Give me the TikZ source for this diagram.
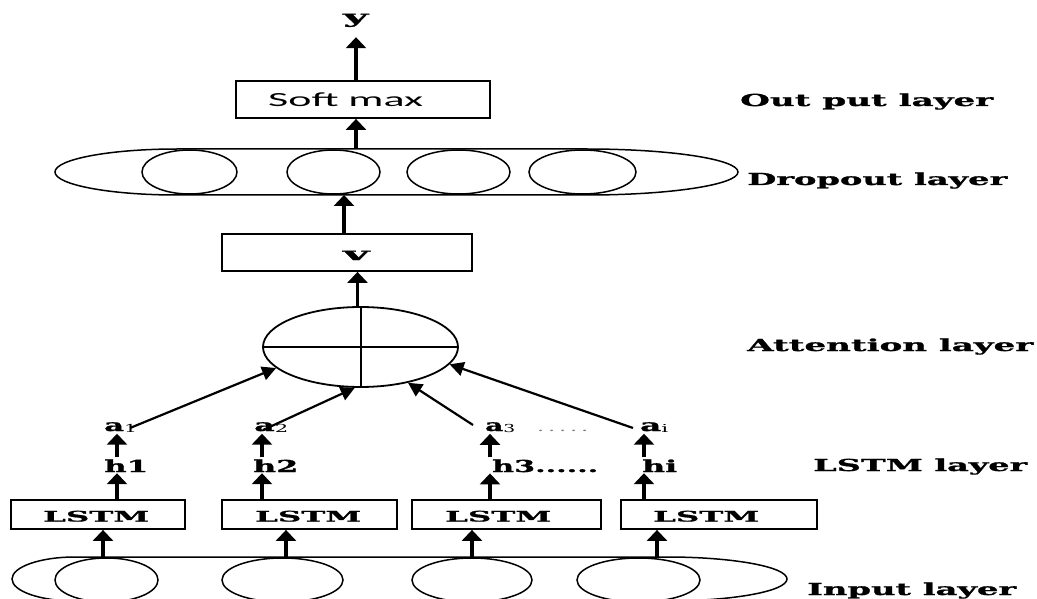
\documentclass[tikz,border=0pt]{standalone}
\usepackage{fontspec}
\usepackage{graphicx}
\setmainfont{DejaVu Serif}[BoldFeatures={FakeBold=1}]
\newfontfamily\boxsans{Carlito}
\usetikzlibrary{arrows.meta,shapes.geometric}
% stretch a piece of text to a given width, keeping its height
\newcommand{\fitto}[2]{\resizebox{#1pt}{\height}{#2}}

\begin{document}
\begin{tikzpicture}[x=1pt,y=-1pt,
  outline/.style={line width=1.5pt},
  boxnode/.style={draw, rectangle, line width=1.8pt, inner sep=0pt},
  unit/.style={draw, ellipse, line width=1.5pt, inner sep=0pt},
  bigarrow/.style={line width=3.5pt, -{Triangle[length=11pt,width=20pt]}},
  attarrow/.style={line width=2.2pt, -{Triangle[length=14pt,width=14pt]}},
  lbl/.style={inner sep=0pt, anchor=base west, font=\bfseries\fontsize{16.5}{18}\selectfont},
  small/.style={inner sep=0pt, anchor=base west, font=\bfseries\fontsize{16.5}{18}\selectfont},
]
\useasboundingbox (0,0) rectangle (1037,599);
\clip (0,0) rectangle (1037,599);

% ---------- output ----------
\node[small, font=\bfseries\fontsize{18}{20}\selectfont] (yl) at (343,23) {\fitto{25}{y}};
\node[boxnode, minimum width=254pt, minimum height=37pt] (softbox) at (363,99.5) {};
\node[inner sep=0pt, anchor=base west, font=\boxsans\fontsize{20}{22}\selectfont] (softtxt) at (268,107) {\fitto{155}{Soft max}};
\draw[bigarrow] (softbox.north -| 356,0) -- ([yshift=-10pt]yl.south -| 356,0);

% ---------- dropout ----------
\draw[outline] (177,149) -- (587,149)
  arc[start angle=90, end angle=-90, x radius=151pt, y radius=23pt]
  -- (177,195)
  arc[start angle=270, end angle=90, x radius=122pt, y radius=23pt] -- cycle;
\node[unit, minimum width=95pt, minimum height=44pt] (d1) at (189.5,172) {};
\node[unit, minimum width=93pt, minimum height=44pt] (d2) at (333.5,172) {};
\node[unit, minimum width=103pt, minimum height=44pt] (d3) at (458.5,172) {};
\node[unit, minimum width=107pt, minimum height=44pt] (d4) at (582.5,172) {};
\coordinate (droptop) at (356,149);
\coordinate (dropbot) at (344,195);
\draw[bigarrow] (droptop) -- (droptop |- softbox.south);

% ---------- v ----------
\node[boxnode, minimum width=250pt, minimum height=37pt] (vbox) at (347,252.5) {};
\node[small, font=\bfseries\fontsize{18}{20}\selectfont] (vl) at (343,260) {\fitto{26}{v}};
\draw[bigarrow] (dropbot |- vbox.north) -- (dropbot);

% ---------- attention ----------
\node[draw, ellipse, line width=1.8pt, inner sep=0pt, minimum width=195pt, minimum height=80pt] (att) at (360.5,347) {};
\draw[line width=1.5pt] (att.west) -- (att.east);
\draw[line width=2pt] (att.north) -- (att.south);
\draw[bigarrow] ([xshift=-3pt]att.north) -- ([xshift=-3pt]att.north |- vbox.south);

% ---------- LSTM ----------
\node[boxnode, minimum width=174pt, minimum height=29pt] (lstm1) at (98,514.5) {};
\node[boxnode, minimum width=175pt, minimum height=29pt] (lstm2) at (309.5,514.5) {};
\node[boxnode, minimum width=189pt, minimum height=29pt] (lstm3) at (506.5,514.5) {};
\node[boxnode, minimum width=196pt, minimum height=29pt] (lstm4) at (719,514.5) {};
\foreach \i/\x in {1/43,2/255,3/445,4/653}
  \node[small, font=\bfseries\fontsize{14.5}{16}\selectfont] (lt\i) at (\x,521.5) {\fitto{106}{LSTM}};

% hidden states
\node[small] (h1) at (104,472) {\fitto{44}{h1}};
\node[small] (h2) at (253,472) {\fitto{45}{h2}};
\node[small] (h3) at (492,472) {\fitto{106}{h3......}};
\node[small] (h4) at (642,472) {\fitto{35}{hi}};

% attention weights
\node[small] (a1) at (104,431) {\fitto{33}{a\raisebox{-1.5pt}{\mdseries\fontsize{11}{11}\selectfont 1}}};
\node[small] (a2) at (254,431) {\fitto{34}{a\raisebox{-1.5pt}{\mdseries\fontsize{11}{11}\selectfont 2}}};
\node[small] (a3) at (485,431) {\fitto{30}{a\raisebox{-1.5pt}{\mdseries\fontsize{11}{11}\selectfont 3}}};
\node[inner sep=0pt, anchor=base west, text=gray, font=\fontsize{12}{12}\selectfont] (adots) at (537,431) {\fitto{51}{.\,.\,.\,.\,.}};
\node[small] (a4) at (640,431) {\fitto{28}{a\raisebox{-1.5pt}{\mdseries\fontsize{11}{11}\selectfont i}}};

% columns of the recurrent arrows
\foreach \i/\x in {1/117,2/262,3/490,4/644} {
  \coordinate (c\i) at (\x,0);
  \draw[bigarrow] (c\i |- lstm\i.north) -- ([yshift=-1pt]c\i |- h\i.south);
  \draw[bigarrow] ([yshift=2pt]c\i |- h\i.north) -- ([yshift=-1pt]c\i |- a\i.south);
}

% arrows into the attention unit
\coordinate (s1) at (130,428);
\coordinate (s2) at (263,430);
\coordinate (s3) at (473,425);
\coordinate (s4) at (633,428);
\draw[attarrow] (s1) -- (att.194);
\draw[attarrow] (s2) -- (att.262);
\draw[attarrow] (s3) -- (att.323);
\draw[attarrow] (s4) -- (att.349);

% ---------- input ----------
\draw[outline] (75,557) -- (667,557)
  arc[start angle=90, end angle=-90, x radius=120pt, y radius=22pt]
  -- (75,601)
  arc[start angle=270, end angle=90, x radius=63pt, y radius=22pt] -- cycle;
\node[unit, minimum width=103pt, minimum height=44pt] (x1) at (106.5,580) {};
\node[unit, minimum width=121pt, minimum height=44pt] (x2) at (282.5,580) {};
\node[unit, minimum width=120pt, minimum height=44pt] (x3) at (472,580) {};
\node[unit, minimum width=123pt, minimum height=44pt] (x4) at (638.5,580) {};
\foreach \i/\x in {1/103,2/286,3/472,4/657} {
  \coordinate (in\i) at (\x,557);
  \draw[bigarrow] (in\i) -- (in\i |- lstm\i.south);
}

% ---------- layer names ----------
\node[lbl] (lout) at (740,106) {\fitto{253}{Out put layer}};
\node[lbl] (ldrop) at (747,185) {\fitto{260}{Dropout layer}};
\node[lbl] (latt) at (747,351) {\fitto{286}{Attention layer}};
\node[lbl] (llstm) at (813,471) {\fitto{214}{LSTM layer}};
\node[lbl] (lin) at (807,595) {\fitto{209}{Input layer}};
\end{tikzpicture}
\end{document}
